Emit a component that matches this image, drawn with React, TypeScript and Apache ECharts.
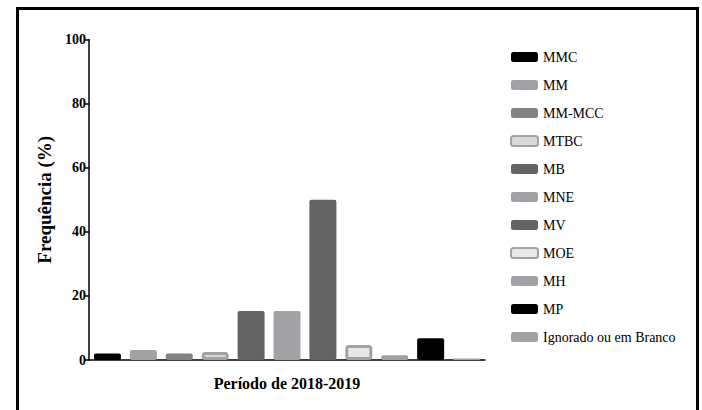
import React, { useEffect, useRef } from "react";
import * as echarts from "echarts";

// Categories and values (percent) for the 2018-2019 period
const periodLabels = ["Período de 2018-2019"];
const seriesNames = [
  "MMC",
  "MM",
  "MM-MCC",
  "MTBC",
  "MB",
  "MNE",
  "MV",
  "MOE",
  "MH",
  "MP",
  "Ignorado ou em Branco",
];
const seriesValues = [2.0, 3.1, 2.0, 2.5, 15.3, 15.3, 50.0, 4.7, 1.5, 6.8, 0.5];
const yTicks = { min: 0, max: 100, interval: 20 };

// fill / border per series
const fills = [
  "#000000",
  "#a2a2a6",
  "#838383",
  "#d8d8d8",
  "#636363",
  "#a2a2a6",
  "#636363",
  "#e8e8e8",
  "#a2a2a6",
  "#000000",
  "#a2a2a6",
];
const borders: (string | null)[] = [
  null,
  null,
  null,
  "#a2a2a6",
  null,
  null,
  null,
  "#a2a2a6",
  null,
  null,
  null,
];

const serif = "Liberation Serif";

export default function App() {
  const ref = useRef<HTMLDivElement>(null);

  useEffect(() => {
    if (!ref.current) return;
    const chart = echarts.init(ref.current, null, { renderer: "svg" });

    const series = seriesNames.map((name, i) => ({
      name,
      type: "bar" as const,
      data: [seriesValues[i]],
      barWidth: 27,
      barGap: "33%",
      itemStyle: {
        color: fills[i],
        borderColor: borders[i] ?? fills[i],
        borderWidth: borders[i] ? 3 : 0,
        borderRadius: 2,
      },
    }));

    chart.setOption({
      animation: false,
      backgroundColor: "#ffffff",
      grid: { left: 89, right: 217, top: 39.5, bottom: 50, containLabel: false },
      legend: {
        orient: "vertical",
        left: 505,
        top: 45,
        icon: "roundRect",
        itemWidth: 27,
        itemHeight: 10,
        itemGap: 14,
        textStyle: { fontFamily: serif, fontSize: 14, color: "#000" },
        data: seriesNames,
      },
      xAxis: {
        type: "category",
        data: periodLabels,
        axisLine: { lineStyle: { color: "#000", width: 1.5 } },
        axisTick: { alignWithLabel: true, length: 6, lineStyle: { color: "#000", width: 1.5 } },
        axisLabel: {
          fontFamily: serif,
          fontWeight: "bold",
          fontSize: 16,
          color: "#000",
          margin: 15,
        },
      },
      yAxis: {
        type: "value",
        min: yTicks.min,
        max: yTicks.max,
        interval: yTicks.interval,
        name: "Frequência (%)",
        nameLocation: "middle",
        nameGap: 34,
        nameTextStyle: {
          fontFamily: serif,
          fontWeight: "bold",
          fontSize: 19,
          color: "#000",
        },
        splitLine: { show: false },
        axisLine: { show: true, lineStyle: { color: "#000", width: 1.5 } },
        axisTick: { show: true, length: 5, lineStyle: { color: "#000", width: 1.5 } },
        axisLabel: {
          fontFamily: serif,
          fontWeight: "bold",
          fontSize: 14,
          color: "#000",
          margin: 3,
        },
      },
      graphic: [
        {
          type: "polyline",
          silent: true,
          shape: {
            points: [
              [17.5, 420],
              [17.5, 8.5],
              [697.5, 8.5],
              [697.5, 420],
            ],
          },
          style: { stroke: "#000", lineWidth: 3, fill: null },
        },
      ],
      series,
    });

    return () => chart.dispose();
  }, []);

  return (
    <div
      ref={ref}
      style={{ position: "fixed", left: 0, top: 0, width: 702, height: 410 }}
    />
  );
}
